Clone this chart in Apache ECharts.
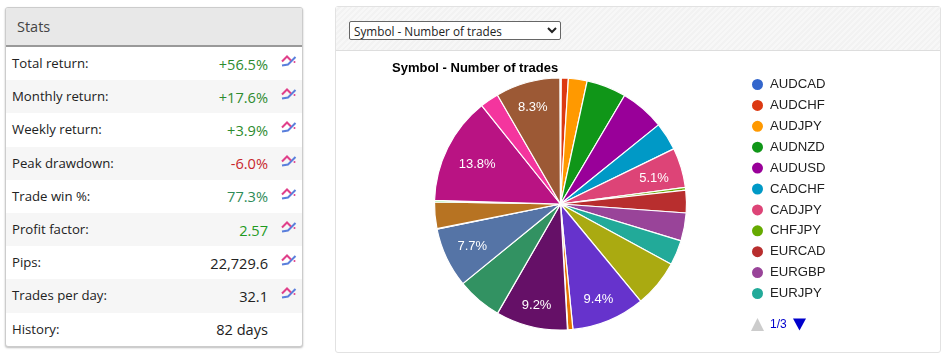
<!DOCTYPE html>
<html><head><meta charset="utf-8">
<script src="https://cdn.jsdelivr.net/npm/echarts@6/dist/echarts.min.js"></script>
<style>
html,body{margin:0;padding:0;background:#fff;width:944px;height:362px;overflow:hidden}
.stats{position:absolute;left:5px;top:7px;width:296px;height:338px;border:1px solid #ccc;border-radius:3px;box-shadow:0 1px 2px #bbb;font-family:"Open Sans",sans-serif;overflow:hidden;background:#fff}
.head{height:37px;line-height:38px;background:#e8e8e8;border-bottom:2px solid #999;padding-left:11px;font-size:14.5px;color:#444}
.row{position:absolute;left:0;width:296px;height:33.2px;line-height:32px;font-size:13.2px;color:#222}
.row.alt{background:#f6f6f6}
.row .k{position:absolute;left:6px}
.row .v{position:absolute;right:34px;top:0.5px;font-size:14.6px}
.row svg{position:absolute;left:275px;top:7px}
.panel{position:absolute;left:335px;top:6px;width:604px;height:345px;border:1px solid #e2e2e2;border-radius:3px;background:#fff}
.bar{height:43px;background:repeating-linear-gradient(135deg,#f7f7f7 0,#f7f7f7 2px,#f2f2f2 2px,#f2f2f2 4px);border-bottom:1px solid #ddd}
select{position:absolute;left:13px;top:14px;width:212px;height:19px;font-family:"Open Sans",sans-serif;font-size:11.75px;background:#fff;border:1px solid #666;border-radius:2px;color:#222;padding:0}
#chart{position:absolute;left:336px;top:51px;width:603px;height:301px}
</style></head><body>
<div class="stats" id="stats"><div class="head">Stats</div></div>
<div class="panel"><div class="bar"><select><option>Symbol - Number of trades</option></select></div></div>
<div id="chart"></div>
<script>
const statLabels=["Total return:","Monthly return:","Weekly return:","Peak drawdown:","Trade win %:","Profit factor:","Pips:","Trades per day:","History:"];
const statValues=["+56.5%","+17.6%","+3.9%","-6.0%","77.3%","2.57","22,729.6","32.1","82 days"];
const statColors=["#2e8b2e","#2e8b2e","#2e8b2e","#c8272c","#2e8b57","#1f9a1f","#222","#222","#222"];
const categories=["AUDCAD","AUDCHF","AUDJPY","AUDNZD","AUDUSD","CADCHF","CADJPY","CHFJPY","EURCAD","EURGBP","EURJPY","EURNZD","EURUSD","GBPAUD","GBPCAD","GBPCHF","GBPJPY","GBPNZD","GBPUSD","NZDCAD","NZDCHF","NZDJPY","NZDUSD","USDCAD","USDJPY"];
const values=[0.1,0.9,2.4,5.1,5.7,3.6,5.1,0.35,2.9,3.6,3.2,6.1,9.4,0.65,0.05,9.2,5.8,7.7,0.05,3.4,0.2,13.8,2.4,8.3,0.05];
const colors=["#3366cc","#dc3912","#ff9900","#109618","#990099","#0099c6","#dd4477","#66aa00","#b82e2e","#994499","#22aa99","#aaaa11","#6633cc","#e67300","#8b0707","#651067","#329262","#5574a6","#3b3eac","#b77322","#16d620","#b91383","#f4359e","#9c5935","#3366cc"];
const labelled=["CADJPY","EURUSD","GBPCHF","GBPNZD","NZDJPY","USDCAD"];
const chartTitle="Symbol - Number of trades";
const pageSize=11;

const st=document.getElementById('stats');
statLabels.forEach((l,i)=>{
  const r=document.createElement('div');
  r.className='row'+(i%2?' alt':'');
  r.style.top=(39+i*33.2)+'px';
  const icon=i<8?'<svg width="16" height="14" viewBox="0 0 16 14"><path d="M1 11.5L7 10.5L14.5 3" fill="none" stroke="#5a7fdc" stroke-width="2"/><path d="M1 7.5L6 2.5L10 6.5" fill="none" stroke="#e0408a" stroke-width="2"/><circle cx="13.5" cy="8" r="1" fill="#e0408a"/></svg>':'';
  r.innerHTML='<span class="k">'+l+'</span><span class="v" style="color:'+statColors[i]+'">'+statValues[i]+'</span>'+icon;
  st.appendChild(r);
});

const labelNudge={CADJPY:[-1,3],EURUSD:[0,4],GBPCHF:[-1,5],GBPNZD:[1,0],NZDJPY:[5,4],USDCAD:[-2,-1]};
const data=categories.map((n,i)=>({name:n,value:values[i],itemStyle:{color:colors[i]}}));
const ch=echarts.init(document.getElementById('chart'),null,{renderer:'canvas'});
const cx=560.5-336,cy=204-51,R=126;
const pages=Math.ceil(categories.length/pageSize);
let page=0;
function pager(){
  const on='#0000cc',off='#ccc';
  return [
    {type:'polygon',id:'prev',shape:{points:[[415,280],[421.5,267],[428,280]]},style:{fill:page>0?on:off},onclick:()=>go(-1)},
    {type:'text',id:'pageText',x:434,y:273.5,style:{text:(page+1)+'/'+pages,fill:on,font:'12px "Liberation Sans",Arial,sans-serif',textVerticalAlign:'middle',verticalAlign:'middle'}},
    {type:'polygon',id:'next',shape:{points:[[457,267.5],[470,267.5],[463.5,279.5]]},style:{fill:page<pages-1?on:off},onclick:()=>go(1)}
  ];
}
function go(d){
  const p=page+d;
  if(p<0||p>=pages)return;
  page=p;
  ch.setOption({legend:{data:categories.slice(page*pageSize,(page+1)*pageSize)},graphic:pager()});
}
ch.setOption({
  animation:false,
  title:{text:chartTitle,left:56,top:11,padding:0,textStyle:{fontFamily:'"Liberation Sans",Arial,sans-serif',fontSize:13,fontWeight:'bold',color:'#000'}},
  legend:{orient:'vertical',left:414,top:26,padding:0,itemGap:5.9,itemWidth:15,itemHeight:13,icon:'circle',selectedMode:false,
    data:categories.slice(0,pageSize),
    textStyle:{fontFamily:'"Liberation Sans",Arial,sans-serif',fontSize:13.15,color:'#222'}},
  graphic:pager(),
  series:[
    {type:'pie',radius:[0,R],center:[cx,cy],startAngle:90,clockwise:true,data:data,label:{show:false},labelLine:{show:false},
     itemStyle:{borderColor:'#fff',borderWidth:1.2},emphasis:{disabled:true},silent:true},
    {type:'pie',radius:[R*0.52,R],center:[cx,cy],startAngle:90,clockwise:true,percentPrecision:1,silent:true,
     data:categories.map((n,i)=>({name:n,value:values[i],itemStyle:{color:'transparent'},
       label:{show:labelled.includes(n)}})),
     label:{position:'inside',formatter:'{d}%',color:'#fff',fontSize:13,fontFamily:'"Liberation Sans",Arial,sans-serif'},
     labelLayout:p=>{const o=labelNudge[categories[p.dataIndex]]||[0,0];return {dx:o[0],dy:o[1]};},
     labelLine:{show:false},emphasis:{disabled:true}}
  ]
});
</script></body></html>
